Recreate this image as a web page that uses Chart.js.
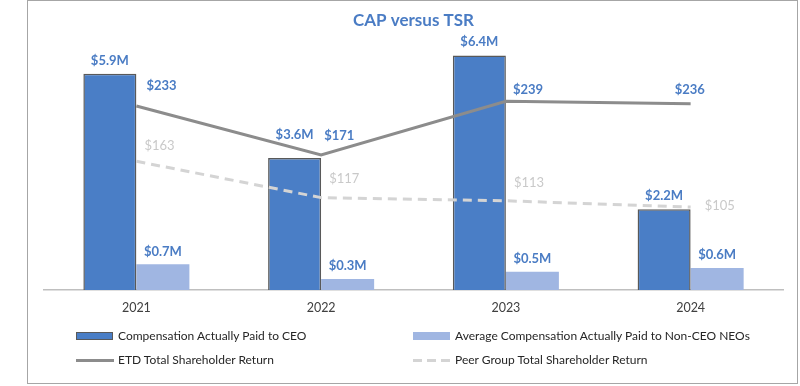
<!DOCTYPE html>
<html>
<head>
<meta charset="utf-8">
<script src="https://cdn.jsdelivr.net/npm/chart.js@4.4.1/dist/chart.umd.min.js"></script>
<style>
  body { margin:0; background:#fff; font-family: Lato, "Open Sans", sans-serif; }
  #wrap { position:relative; width:800px; height:386px; }
  #frame { position:absolute; left:27px; top:0; width:769px; height:382px; border:1.5px solid #a6a6a6; pointer-events:none; }
  .lg { position:absolute; font-size:12px; color:#262626; line-height:16px; white-space:nowrap; }
  .sw { position:absolute; }
</style>
</head>
<body>
<div id="wrap">
  <canvas id="myChart" width="800" height="386"></canvas>
  <div id="frame"></div>
  <div id="legend"></div>
</div>
<script>
const years = ['2021', '2022', '2023', '2024'];
const ceoCap = [5.9, 3.6, 6.4, 2.2];
const neoCap = [0.7, 0.3, 0.5, 0.6];
const etdTsr = [233, 171, 239, 236];
const peerTsr = [163, 117, 113, 105];

const blue = '#4a7ec6';
const labelBlue = '#4a7cc4';

// label offsets relative to the point, [dx, dy]
const ceoLift = [13, 23, 14, 14];
const etdOffsets = [[10, -20], [3, -19], [7, -11], [-16, -14]];
const peerOffsets = [[8, -15], [8, -19], [8, -18], [14, -1]];

const valueLabels = {
  id: 'valueLabels',
  afterDatasetsDraw(chart) {
    const c = chart.ctx;
    c.save();
    chart.data.datasets.forEach((ds, i) => {
      const meta = chart.getDatasetMeta(i);
      meta.data.forEach((el, j) => {
        const v = ds.data[j];
        c.textBaseline = 'middle';
        if (ds.type === 'bar') {
          c.font = 'bold 13px Lato, "Open Sans", sans-serif';
          c.fillStyle = labelBlue;
          c.textAlign = 'center';
          const lift = i === 0 ? ceoLift[j] : 13;
          c.fillText('$' + v.toFixed(1) + 'M', el.x, el.y - lift);
        } else if (i === 2) {
          c.font = 'bold 13px Lato, "Open Sans", sans-serif';
          c.fillStyle = labelBlue;
          c.textAlign = 'left';
          c.fillText('$' + v, el.x + etdOffsets[j][0], el.y + etdOffsets[j][1]);
        } else {
          c.font = '13px Lato, "Open Sans", sans-serif';
          c.fillStyle = '#c9c9c9';
          c.textAlign = 'left';
          c.fillText('$' + v, el.x + peerOffsets[j][0], el.y + peerOffsets[j][1]);
        }
      });
    });
    c.restore();
  }
};

const ctx = document.getElementById('myChart');

const chart = new Chart(ctx, {
  type: 'bar',
  data: {
    labels: years,
    datasets: [{
      type: 'bar',
      label: 'Compensation Actually Paid to CEO',
      data: ceoCap,
      backgroundColor: blue,
      borderColor: '#595959',
      borderWidth: 1.5,
      yAxisID: 'y',
      order: 2
    }, {
      type: 'bar',
      label: 'Average Compensation Actually Paid to Non-CEO NEOs',
      data: neoCap,
      backgroundColor: '#a0b6e2',
      borderWidth: 0,
      yAxisID: 'y',
      order: 2
    }, {
      type: 'line',
      label: 'ETD Total Shareholder Return',
      data: etdTsr,
      borderColor: '#8c8c8c',
      borderWidth: 3,
      pointRadius: 0,
      tension: 0,
      yAxisID: 'y1',
      order: 1
    }, {
      type: 'line',
      label: 'Peer Group Total Shareholder Return',
      data: peerTsr,
      borderColor: '#d4d4d4',
      borderWidth: 3,
      borderDash: [9, 6],
      pointRadius: 0,
      tension: 0,
      yAxisID: 'y1',
      order: 0
    }]
  },
  options: {
    responsive: false,
    animation: false,
    datasets: { bar: { barPercentage: 1, categoryPercentage: 0.574 } },
    layout: { padding: { left: 44, right: 17, top: 0, bottom: 69 } },
    plugins: {
      legend: { display: false },
      tooltip: { enabled: false },
      title: {
        display: true,
        text: 'CAP versus TSR',
        color: labelBlue,
        font: { family: 'Lato, "Open Sans", sans-serif', size: 17, weight: 'bold' },
        padding: { top: 10, bottom: 3 }
      }
    },
    scales: {
      x: {
        grid: { display: false },
        border: { display: true, color: '#bfbfbf', width: 1.5 },
        ticks: { color: '#404040', font: { family: 'Lato, "Open Sans", sans-serif', size: 12.5 }, padding: 2 }
      },
      y: { display: false, min: 0, max: 7 },
      y1: { display: false, min: 0, max: 325 }
    }
  },
  plugins: [valueLabels]
});

// legend in two columns, like the original
const legendPos = [[76, 336], [413, 336], [76, 360], [413, 360]];
const legend = document.getElementById('legend');
chart.data.datasets.forEach((ds, i) => {
  const [x, y] = legendPos[i];
  const sw = document.createElement('div');
  sw.className = 'sw';
  if (ds.type === 'bar') {
    sw.style.left = x + 'px';
    sw.style.top = (y - 4) + 'px';
    sw.style.width = '37px';
    sw.style.height = '8px';
    sw.style.background = ds.backgroundColor;
    if (ds.borderWidth) {
      sw.style.boxSizing = 'border-box';
      sw.style.border = '1.5px solid ' + ds.borderColor;
    }
  } else {
    sw.style.left = x + 'px';
    sw.style.top = (y - 1.5) + 'px';
    sw.style.width = '38px';
    sw.style.height = '3px';
    if (ds.borderDash) {
      sw.style.background = 'repeating-linear-gradient(90deg,' + ds.borderColor + ' 0 9px, transparent 9px 14px)';
    } else {
      sw.style.background = ds.borderColor;
    }
  }
  legend.appendChild(sw);
  const t = document.createElement('div');
  t.className = 'lg';
  t.style.left = (x + 42) + 'px';
  t.style.top = (y - 8) + 'px';
  t.textContent = ds.label;
  legend.appendChild(t);
});
</script>
</body>
</html>
